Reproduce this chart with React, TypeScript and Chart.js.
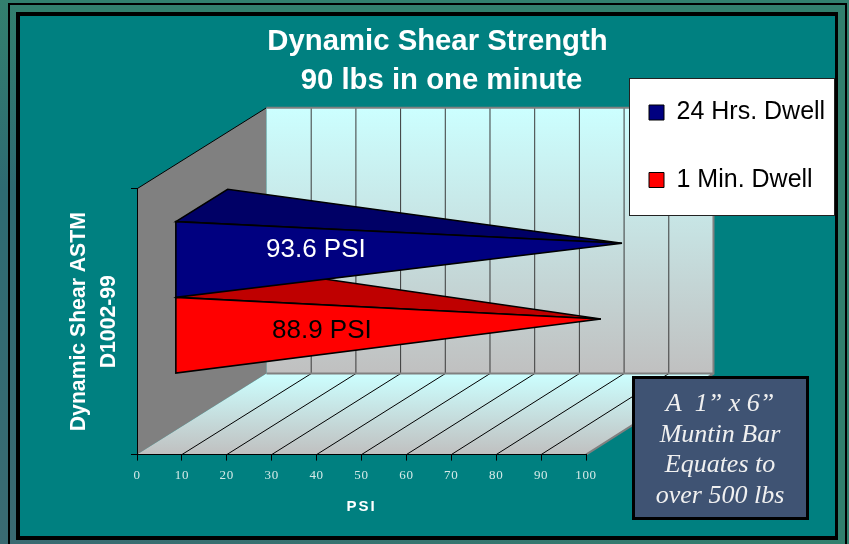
import React, { useEffect, useRef } from "react";
import { Chart, registerables } from "chart.js";

Chart.register(...registerables);

const categories = ["Dynamic Shear"];
const seriesNames = ["24 Hrs. Dwell", "1 Min. Dwell"];
const series24Hrs = [93.6];
const series1Min = [88.9];
const frontColors = ["#000080", "#FF0000"];
const topColors = ["#000066", "#BF0000"];
const labelColors = ["#FFFFFF", "#000000"];
const titleLines = ["Dynamic Shear Strength", " 90 lbs in one minute"];
const yTitleLines = ["Dynamic Shear ASTM", "D1002-99"];
const xTitle = "PSI";
const noteLines = ["A  1\u201D x 6\u201D", "Muntin Bar", "Equates to", "over 500 lbs"];

const DX = 129.5;
const DY = -81;
const BACK_SCALE = 0.9955;
const SANS = "'Liberation Sans', Arial, sans-serif";
const SERIF = "'Liberation Serif', 'Times New Roman', serif";

function pt(x: number, y: number, d: number): [number, number] {
  return [x + DX * d, y + DY * d];
}

function poly(ctx: CanvasRenderingContext2D, pts: [number, number][]) {
  ctx.beginPath();
  pts.forEach((p, i) => (i ? ctx.lineTo(p[0], p[1]) : ctx.moveTo(p[0], p[1])));
  ctx.closePath();
}

function spaced(scale: any, method: string, spacing: string) {
  const orig = scale[method];
  scale[method] = function (...args: any[]) {
    const ctx = scale.ctx;
    const prev = ctx.letterSpacing;
    ctx.letterSpacing = spacing;
    orig.apply(scale, args);
    ctx.letterSpacing = prev;
  };
}

const scene = {
  id: "scene",
  afterLayout(chart: any) {
    const t = chart.titleBlock;
    t.left = 26;
    t.right = 849;
    const l = chart.legend;
    l.left = 606.5;
    l.right = 838;
    l.top = 57.5;
    l.bottom = 300;
    l.width = 231.5;
    l.height = 242.5;
    const xs = chart.scales.x;
    if (!xs.__spaced) {
      xs.__spaced = true;
      spaced(xs, "drawTitle", "2px");
      spaced(xs, "drawLabels", "0.7px");
    }
  },
  beforeDraw(chart: any) {
    const ctx: CanvasRenderingContext2D = chart.ctx;
    const { left, right, top, bottom } = chart.chartArea;
    const xs = chart.scales.x;
    ctx.save();
    ctx.fillStyle = "#32806E";
    ctx.fillRect(0, 0, 849, 544);
    const side = ctx.createLinearGradient(0, 0, 0, 544);
    side.addColorStop(0, "#33806E");
    side.addColorStop(0.35, "#2E6A72");
    side.addColorStop(1, "#3A6A72");
    ctx.fillStyle = side;
    ctx.fillRect(0, 0, 16, 544);
    const low = ctx.createLinearGradient(0, 0, 849, 0);
    low.addColorStop(0, "#3A6A72");
    low.addColorStop(1, "#32806E");
    ctx.fillStyle = low;
    ctx.fillRect(0, 540, 849, 4);
    ctx.strokeStyle = "#000000";
    ctx.lineWidth = 2;
    ctx.strokeRect(9, 4, 837, 600);
    ctx.fillStyle = "#000000";
    ctx.fillRect(16, 12, 822, 528);
    ctx.fillStyle = "#008080";
    ctx.fillRect(20, 16, 815, 520);

    const backL = left + DX;
    const backR = backL + (right - left) * BACK_SCALE;
    const backT = top + DY;
    const backB = bottom + DY;

    poly(ctx, [[left, top], [backL, backT], [backL, backB], [left, bottom]]);
    ctx.fillStyle = "#808080";
    ctx.fill();
    ctx.beginPath();
    ctx.moveTo(left, top);
    ctx.lineTo(backL, backT);
    ctx.strokeStyle = "#000000";
    ctx.lineWidth = 1;
    ctx.stroke();

    const wall = ctx.createLinearGradient(0, backT, 0, backB);
    wall.addColorStop(0, "#CCFFFF");
    wall.addColorStop(1, "#C0C0C0");
    ctx.fillStyle = wall;
    ctx.fillRect(backL, backT, backR - backL, backB - backT);

    const floor = ctx.createLinearGradient(0, backB, 0, bottom);
    floor.addColorStop(0, "#CCFFFF");
    floor.addColorStop(1, "#C0C0C0");
    poly(ctx, [[left, bottom], [right, bottom], [backR, backB], [backL, backB]]);
    ctx.fillStyle = floor;
    ctx.fill();

    xs.ticks.forEach((tick: any) => {
      const x = xs.getPixelForValue(tick.value);
      if (tick.value === 0 || tick.value === 100) return;
      const bx = backL + (x - left) * BACK_SCALE;
      ctx.strokeStyle = "#3A3A3A";
      ctx.lineWidth = 1;
      ctx.beginPath();
      ctx.moveTo(bx, backT);
      ctx.lineTo(bx, backB);
      ctx.stroke();
      ctx.strokeStyle = "#000000";
      ctx.beginPath();
      ctx.moveTo(x, bottom);
      ctx.lineTo(bx, backB);
      ctx.stroke();
    });

    ctx.strokeStyle = "#808080";
    ctx.lineWidth = 2;
    ctx.beginPath();
    ctx.moveTo(backL, backT);
    ctx.lineTo(backR, backT);
    ctx.lineTo(backR, backB);
    ctx.lineTo(right, bottom);
    ctx.moveTo(backL, backB);
    ctx.lineTo(backR, backB);
    ctx.stroke();

    ctx.fillStyle = "#FFFFFF";
    ctx.fillRect(630, 79, 204, 136);
    ctx.strokeStyle = "#222222";
    ctx.lineWidth = 1;
    ctx.strokeRect(629.5, 78.5, 205, 137);
    ctx.restore();
  },
  beforeDatasetDraw(chart: any, args: any) {
    const ctx: CanvasRenderingContext2D = chart.ctx;
    const i = args.index;
    const el = args.meta.data[0];
    const base = chart.scales.x.getPixelForValue(0);
    const up = el.y - el.height / 2;
    const down = el.y + el.height / 2;
    const a = pt(base, up, 0.3);
    const b = pt(base, up, 0.7);
    const c = pt(base, down, 0.3);
    const tip = pt(el.x, el.y, 0.5);
    ctx.save();
    ctx.strokeStyle = "#000000";
    ctx.lineWidth = 1.6;
    ctx.lineJoin = "miter";
    poly(ctx, [a, b, tip]);
    ctx.fillStyle = topColors[i];
    ctx.fill();
    ctx.stroke();
    poly(ctx, [a, c, tip]);
    ctx.fillStyle = frontColors[i];
    ctx.fill();
    ctx.stroke();
    ctx.restore();
    return false;
  },
  afterDatasetsDraw(chart: any) {
    const ctx: CanvasRenderingContext2D = chart.ctx;
    const base = chart.scales.x.getPixelForValue(0);
    ctx.save();
    ctx.font = `26px ${SANS}`;
    ctx.textAlign = "center";
    ctx.textBaseline = "middle";
    chart.data.datasets.forEach((ds: any, i: number) => {
      const el = chart.getDatasetMeta(i).data[0];
      ctx.fillStyle = labelColors[i];
      const [x, y] = pt(base, el.y, 0.3);
      ctx.fillText(`${ds.data[0]} PSI`, x + (i === 0 ? 140 : 146), y - 10 + (i === 0 ? 0 : 6));
    });
    ctx.restore();
  },
  afterDraw(chart: any) {
    const ctx: CanvasRenderingContext2D = chart.ctx;
    ctx.save();
    ctx.fillStyle = "#3F5373";
    ctx.fillRect(634, 378, 173, 140);
    ctx.strokeStyle = "#000000";
    ctx.lineWidth = 3;
    ctx.strokeRect(633.5, 377.5, 174, 141);
    ctx.fillStyle = "#F0F0F0";
    ctx.font = `italic 26px ${SERIF}`;
    ctx.textAlign = "center";
    ctx.textBaseline = "alphabetic";
    noteLines.forEach((s, i) => ctx.fillText(s, 720, 411 + i * 30.6));
    ctx.restore();
  },
};

export default function App() {
  const ref = useRef<HTMLCanvasElement | null>(null);
  useEffect(() => {
    const chart = new Chart(ref.current as HTMLCanvasElement, {
      type: "bar",
      data: {
        labels: categories,
        datasets: [
          {
            label: seriesNames[0],
            data: series24Hrs,
            backgroundColor: frontColors[0],
            borderColor: "#000000",
            borderWidth: 1,
          },
          {
            label: seriesNames[1],
            data: series1Min,
            backgroundColor: frontColors[1],
            borderColor: "#000000",
            borderWidth: 1,
          },
        ],
      },
      plugins: [scene],
      options: {
        indexAxis: "y",
        responsive: false,
        animation: false,
        categoryPercentage: 0.57,
        barPercentage: 1,
        layout: { padding: { left: 26, right: 263, top: 0, bottom: 0 } },
        scales: {
          x: {
            type: "linear",
            min: 0,
            max: 100,
            afterFit: (s: any) => {
              s.height = 89.4;
            },
            grid: {
              drawOnChartArea: false,
              drawTicks: true,
              tickLength: 6,
              color: "#000000",
            },
            border: { display: true, color: "#000000", width: 1 },
            ticks: {
              stepSize: 10,
              autoSkip: false,
              maxRotation: 0,
              padding: 7,
              color: "#D5EAE8",
              font: { family: SERIF, size: 13 },
            },
            title: {
              display: true,
              text: xTitle,
              color: "#FFFFFF",
              font: { family: SANS, size: 15, weight: "bold", lineHeight: 1.2 },
              padding: { top: 0, bottom: 28 },
            },
          },
          y: {
            type: "category",
            afterFit: (s: any) => {
              s.width = 111;
            },
            grid: {
              offset: true,
              drawOnChartArea: false,
              drawTicks: true,
              tickLength: 6,
              color: "#000000",
            },
            border: { display: true, color: "#000000", width: 1 },
            ticks: { display: false },
            title: {
              display: true,
              text: yTitleLines,
              color: "#FFFFFF",
              font: { family: SANS, size: 21.2, weight: "bold", lineHeight: 1.43 },
              padding: { top: 38, bottom: 0 },
            },
          },
        },
        plugins: {
          title: {
            display: true,
            text: titleLines,
            color: "#FFFFFF",
            font: { family: SANS, size: 29.3, weight: "bold", lineHeight: 1.31 },
            padding: { top: 23, bottom: 89 },
          },
          legend: {
            display: true,
            position: "chartArea",
            align: "start",
            labels: {
              boxWidth: 15,
              boxHeight: 15,
              padding: 42.5,
              color: "#000000",
              font: { family: SANS, size: 25 },
            },
          },
          tooltip: { enabled: false },
        },
      },
    } as any);
    return () => chart.destroy();
  }, []);
  return (
    <div style={{ position: "absolute", left: 0, top: 0, width: 849, height: 544 }}>
      <canvas ref={ref} width={849} height={544} style={{ display: "block" }} />
    </div>
  );
}
